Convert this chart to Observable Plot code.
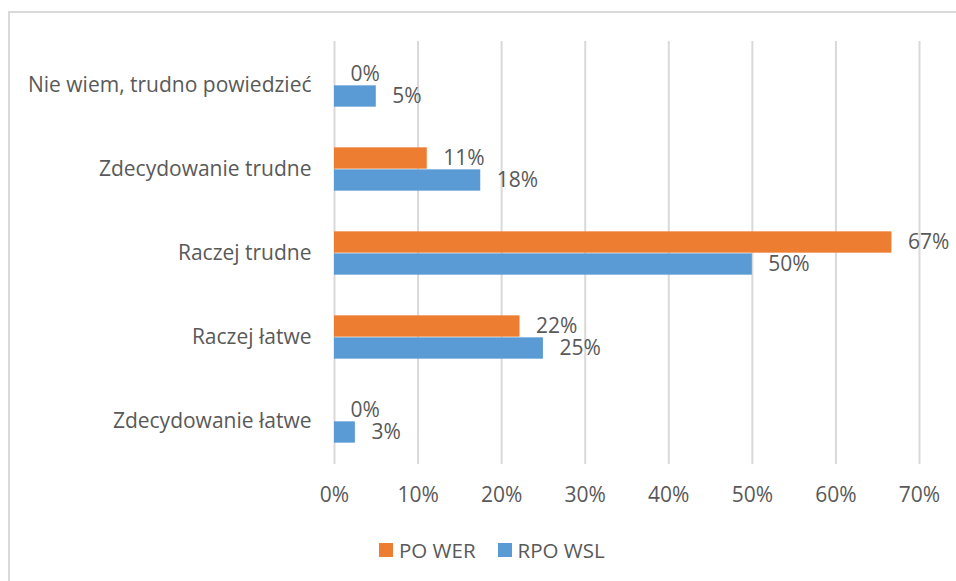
<!DOCTYPE html>
<html><head><meta charset="utf-8">
<script src="https://cdn.jsdelivr.net/npm/d3@7"></script>
<script src="https://cdn.jsdelivr.net/npm/@observablehq/plot@0.6"></script>
<style>
body{margin:0;background:#fff;font-family:"Open Sans",sans-serif;width:956px;height:581px;overflow:hidden;position:relative;}
#frame{position:absolute;left:8px;top:11px;width:2000px;height:2000px;border-left:2px solid #d9d9d9;border-top:2px solid #d9d9d9;}
#chart{position:absolute;left:0;top:0;}
#legend{position:absolute;top:536px;left:379px;display:flex;align-items:center;font-size:20.5px;color:#595959;white-space:nowrap;}
#legend .sw{display:inline-block;width:14px;height:14px;margin-right:6px;}
#legend .item{display:flex;align-items:center;margin-right:22px;}
</style></head><body>
<div id="frame"></div>
<div id="chart"></div>
<div id="legend"></div>
<script>
const categories = ["Nie wiem, trudno powiedzieć","Zdecydowanie trudne","Raczej trudne","Raczej łatwe","Zdecydowanie łatwe"];
const seriesNames = ["PO WER","RPO WSL"];
const poWer = [0, 0.111, 0.667, 0.222, 0];
const rpoWsl = [0.05, 0.175, 0.50, 0.25, 0.025];
const xTicks = [0, 0.1, 0.2, 0.3, 0.4, 0.5, 0.6, 0.7];
const colors = ["#ED7D31", "#5B9BD5"];

const data = categories.flatMap((c, i) => [
  {category: c, series: seriesNames[0], value: poWer[i]},
  {category: c, series: seriesNames[1], value: rpoWsl[i]}
]);
const orange = data.filter(d => d.series === seriesNames[0]);
const blue = data.filter(d => d.series === seriesNames[1]);
const fmt = v => Math.round(v * 100) + "%";
const H = 22; // bar thickness
const bw = (464.3 - 41) / 5;
const inset = (bw - H) / 2;
const FS = 21;
const textStyle = {fontSize: FS, fill: "#595959", textAnchor: "start", dx: 16};

const chart = Plot.plot({
  width: 956,
  height: 520,
  marginLeft: 334,
  marginRight: 37,
  marginTop: 41,
  marginBottom: 56,
  style: {fontFamily: "'Open Sans', sans-serif", fontSize: FS + "px", color: "#595959", background: "transparent"},
  x: {domain: [0, 0.7], ticks: xTicks, tickFormat: fmt, tickSize: 0, tickPadding: 23, label: null},
  y: {domain: categories, padding: 0, tickSize: 0, tickPadding: 23, label: null},
  marks: [
    Plot.ruleX(xTicks, {stroke: "#d9d9d9", strokeWidth: 2}),
    Plot.barX(orange, {x: "value", y: "category", fill: colors[0], insetTop: inset, insetBottom: inset, dy: -H / 2}),
    Plot.barX(blue, {x: "value", y: "category", fill: colors[1], insetTop: inset, insetBottom: inset, dy: H / 2}),
    Plot.text(orange, {x: "value", y: "category", text: d => fmt(d.value), dy: -H / 2, ...textStyle}),
    Plot.text(blue, {x: "value", y: "category", text: d => fmt(d.value), dy: H / 2, ...textStyle})
  ]
});
document.getElementById("chart").appendChild(chart);

const legend = document.getElementById("legend");
seriesNames.forEach((s, i) => {
  const item = document.createElement("div");
  item.className = "item";
  item.innerHTML = `<span class="sw" style="background:${colors[i]}"></span><span>${s}</span>`;
  legend.appendChild(item);
});
</script>
</body></html>
